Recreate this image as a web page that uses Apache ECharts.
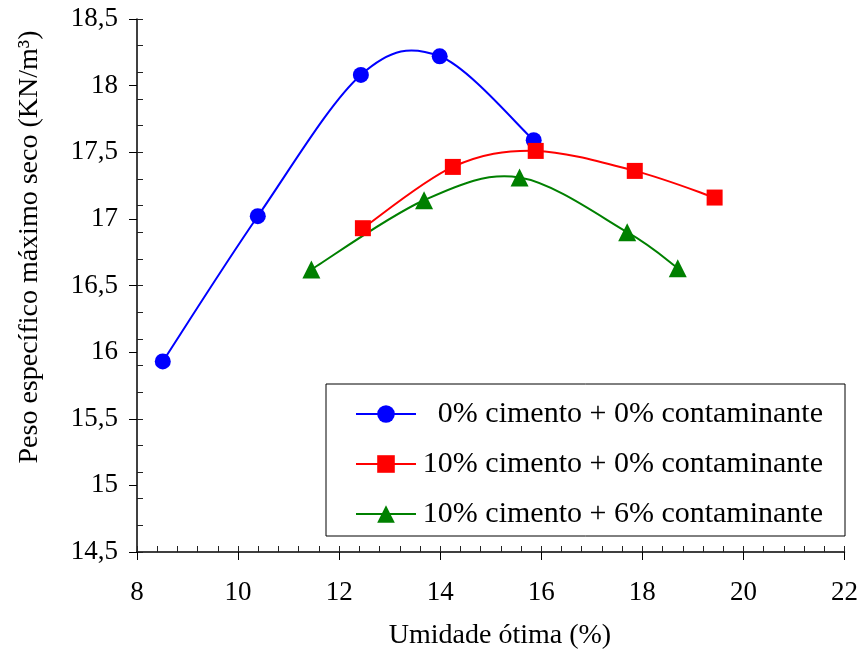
<!DOCTYPE html>
<html>
<head>
<meta charset="utf-8">
<title>Peso específico máximo seco x Umidade ótima</title>
<script src="https://cdn.jsdelivr.net/npm/echarts@6/dist/echarts.min.js"></script>
<style>
  html, body { margin: 0; padding: 0; background: #fff; }
  #chart { width: 861px; height: 655px; }
</style>
</head>
<body>
<div id="chart"></div>
<script>
// Compaction results: optimum moisture (%) vs maximum dry unit weight (kN/m³)
const seriesNames = [
  '0% cimento + 0% contaminante',
  '10% cimento + 0% contaminante',
  '10% cimento + 6% contaminante'
];
const umidadeA = [8.51, 10.39, 12.43, 13.99, 15.85];
const pesoA    = [15.93, 17.02, 18.08, 18.22, 17.59];
const umidadeB = [12.47, 14.25, 15.89, 17.85, 19.43];
const pesoB    = [16.93, 17.39, 17.51, 17.36, 17.16];
const umidadeC = [11.45, 13.68, 15.57, 17.70, 18.70];
const pesoC    = [16.62, 17.14, 17.31, 16.90, 16.63];

const xTitle = 'Umidade ótima (%)';
const yTitle = 'Peso específico máximo seco (KN/m³)';

const serif = '"Liberation Serif", "Times New Roman", serif';
const colors = ['#0000ff', '#ff0000', '#008000'];
const symbols = ['circle', 'rect', 'triangle'];
const symbolSizes = [16, 16, 18];

function pairs(xs, ys) { return xs.map((x, i) => [x, ys[i]]); }
const dataSets = [pairs(umidadeA, pesoA), pairs(umidadeB, pesoB), pairs(umidadeC, pesoC)];

// Smoothed curve: one cubic Bezier per segment, control points taken from the
// neighbouring points (Catmull-Rom style, tangent = (next - prev) / 6), in pixels.
function curveRenderer(data, color) {
  return function (params, api) {
    const i = params.dataIndex;
    const n = data.length;
    if (i >= n - 1) return null;
    const p = data.map(d => api.coord(d));
    const p0 = p[Math.max(i - 1, 0)], p1 = p[i], p2 = p[i + 1], p3 = p[Math.min(i + 2, n - 1)];
    return {
      type: 'bezierCurve',
      shape: {
        x1: p1[0], y1: p1[1],
        x2: p2[0], y2: p2[1],
        cpx1: p1[0] + (p2[0] - p0[0]) / 6, cpy1: p1[1] + (p2[1] - p0[1]) / 6,
        cpx2: p2[0] - (p3[0] - p1[0]) / 6, cpy2: p2[1] - (p3[1] - p1[1]) / 6
      },
      style: { stroke: color, lineWidth: 2, fill: null },
      silent: true
    };
  };
}

const chart = echarts.init(document.getElementById('chart'), null, { renderer: 'canvas' });

const axisLine = { show: true, lineStyle: { color: '#000', width: 1.5 } };

const curveSeries = seriesNames.map((name, i) => ({
  name: name + ' – curva',
  type: 'custom',
  xAxisIndex: 0, yAxisIndex: 0,
  data: dataSets[i],
  renderItem: curveRenderer(dataSets[i], colors[i]),
  z: 2 + i
}));

const markerSeries = seriesNames.map((name, i) => ({
  name: name,
  type: 'line',
  xAxisIndex: 0, yAxisIndex: 0,
  data: dataSets[i],
  symbol: symbols[i],
  symbolSize: symbolSizes[i],
  showAllSymbol: true,
  lineStyle: { color: colors[i], width: 2, opacity: 0 },
  itemStyle: { color: colors[i] },
  z: 6 + i
}));

chart.setOption({
  animation: false,
  backgroundColor: '#fff',
  grid: { left: 137, right: 16, top: 19, bottom: 103, containLabel: false },
  xAxis: [
    {
      type: 'value', min: 8, max: 22, interval: 2, position: 'bottom',
      axisLine: axisLine,
      axisTick: { show: true, inside: false, length: 8, lineStyle: { color: '#000', width: 1 } },
      axisLabel: { margin: 27, fontFamily: serif, fontSize: 27, color: '#000' },
      splitLine: { show: false }
    },
    {
      // inner minor ticks every 0.4
      type: 'value', min: 8, max: 22, interval: 0.4, position: 'bottom',
      axisLine: { show: false },
      axisTick: { show: true, inside: true, length: 6, lineStyle: { color: '#222', width: 1 } },
      axisLabel: { show: false },
      splitLine: { show: false }
    }
  ],
  yAxis: [
    {
      type: 'value', min: 14.5, max: 18.5, interval: 0.5, position: 'left',
      axisLine: axisLine,
      axisTick: { show: true, inside: false, length: 8, lineStyle: { color: '#000', width: 1 } },
      axisLabel: {
        margin: 19, fontFamily: serif, fontSize: 27, color: '#000',
        formatter: v => String(v).replace('.', ',')
      },
      splitLine: { show: false }
    },
    {
      // inner minor ticks every 0.2
      type: 'value', min: 14.5, max: 18.5, interval: 0.2, position: 'left', offset: 0,
      axisLine: { show: false },
      axisTick: { show: true, inside: true, length: 6, lineStyle: { color: '#222', width: 1 } },
      axisLabel: { show: false },
      splitLine: { show: false }
    }
  ],
  legend: {
    orient: 'vertical',
    left: 326, top: 384,
    padding: [15, 22, 7, 29],
    itemGap: 20,
    itemWidth: 60, itemHeight: 22,
    backgroundColor: '#fff',
    borderColor: '#000', borderWidth: 1,
    data: seriesNames.map((name, i) => ({
      name: name,
      lineStyle: { color: colors[i], width: 2, opacity: 1 }
    })),
    formatter: name => '{t|' + name + '}',
    textStyle: {
      rich: {
        t: { width: 402, align: 'right', fontFamily: serif, fontSize: 30, color: '#000', lineHeight: 31 }
      }
    }
  },
  graphic: [
    {
      type: 'text', x: 500, y: 636,
      style: { text: xTitle, fontFamily: serif, fontSize: 28, fill: '#000', align: 'center', verticalAlign: 'middle' }
    },
    {
      type: 'text', x: 30, y: 247, rotation: Math.PI / 2,
      style: { text: yTitle, fontFamily: serif, fontSize: 28, fill: '#000', align: 'center', verticalAlign: 'middle' }
    }
  ],
  series: curveSeries.concat(markerSeries)
});
</script>
</body>
</html>
